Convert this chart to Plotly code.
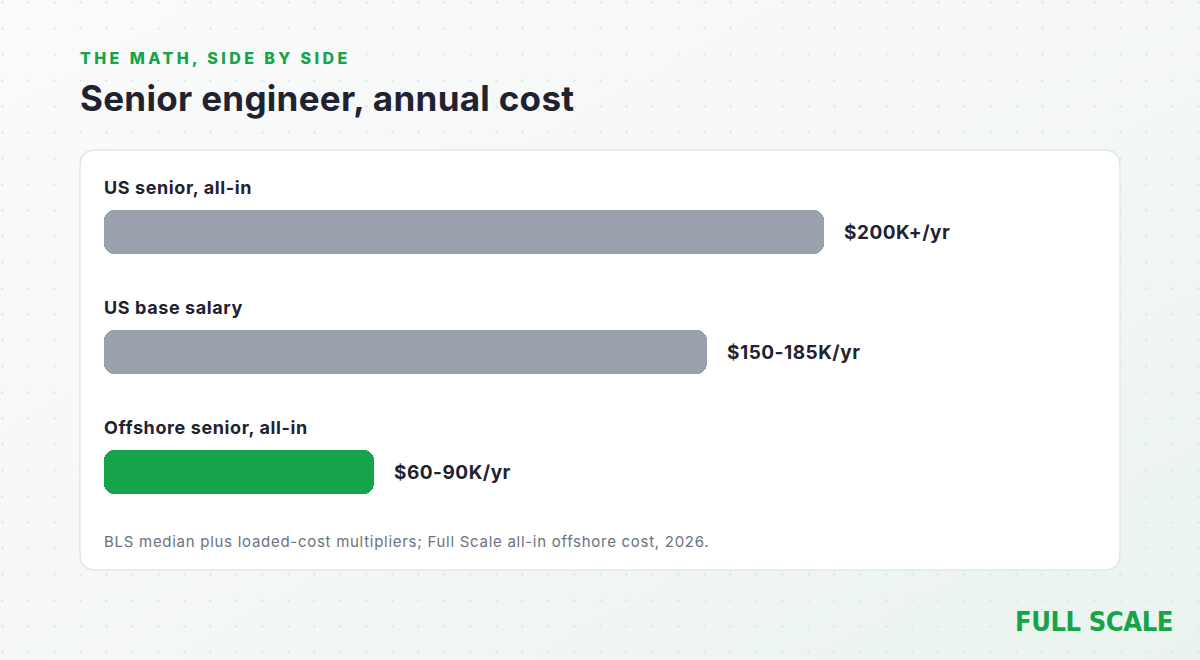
import plotly.graph_objects as go
import base64

# ---- data ----
categories = ["US senior, all-in", "US base salary", "Offshore senior, all-in"]
values_k = [200, 167.5, 75]          # bar length, $K/yr (range midpoint)
value_labels = ["$200K+/yr", "$150-185K/yr", "$60-90K/yr"]
bar_colors = ["#9AA1AC", "#9AA1AC", "#16A34A"]

eyebrow = "THE MATH, SIDE BY SIDE"
title = "Senior engineer, annual cost"
footnote = "BLS median plus loaded-cost multipliers; Full Scale all-in offshore cost, 2026."
logo = "FULL SCALE"

W, H = 1200, 660
FONT = "Inter"
DARK = "#1F2230"
GREEN = "#16A34A"
PX_PER_K = 3.6
R = 10                          # bar corner radius, px

# background gradient + dot grid (decorative) as an SVG image
svg = f'''<svg xmlns="http://www.w3.org/2000/svg" width="{W}" height="{H}">
<defs>
<linearGradient id="g" x1="0" y1="0" x2="1" y2="1">
<stop offset="0" stop-color="#FAFBFB"/>
<stop offset="0.5" stop-color="#F5F8F6"/>
<stop offset="1" stop-color="#E9F3EE"/>
</linearGradient>
<pattern id="p" x="1" y="1" width="26" height="26" patternUnits="userSpaceOnUse">
<circle cx="1.5" cy="1.5" r="1.3" fill="#DCE9E3"/>
</pattern>
</defs>
<rect width="{W}" height="{H}" fill="url(#g)"/>
<rect width="{W}" height="{H}" fill="url(#p)"/>
</svg>'''
bg_src = "data:image/svg+xml;base64," + base64.b64encode(svg.encode()).decode()

fig = go.Figure()
# explicit base -> plotly rounds both ends of each bar
fig.add_trace(go.Bar(
    x=values_k, base=[0] * len(values_k), y=categories, orientation="h",
    marker=dict(color=bar_colors, cornerradius=R, line=dict(width=0)),
    width=44 / 120, hoverinfo="skip",
))

def px_x(p):
    return p / W
def px_y(p):
    return 1 - p / H

# card (rounded rect) in paper coords
x0, x1, yt, yb, r = 80, 1120, 150, 570, 16
path = (f"M {px_x(x0 + r)},{px_y(yt)} L {px_x(x1 - r)},{px_y(yt)} "
        f"Q {px_x(x1)},{px_y(yt)} {px_x(x1)},{px_y(yt + r)} "
        f"L {px_x(x1)},{px_y(yb - r)} Q {px_x(x1)},{px_y(yb)} {px_x(x1 - r)},{px_y(yb)} "
        f"L {px_x(x0 + r)},{px_y(yb)} Q {px_x(x0)},{px_y(yb)} {px_x(x0)},{px_y(yb - r)} "
        f"L {px_x(x0)},{px_y(yt + r)} Q {px_x(x0)},{px_y(yt)} {px_x(x0 + r)},{px_y(yt)} Z")

shapes = [dict(type="path", path=path, xref="paper", yref="paper",
               fillcolor="white", line=dict(color="#E3E7E5", width=1.5), layer="below")]

def spaced(t, ls):
    return f'<span style="letter-spacing:{ls}px">{t}</span>'

annotations = []
for cat, v, lab in zip(categories, values_k, value_labels):
    annotations.append(dict(x=0, y=cat, xref="x", yref="y", text=spaced(cat, 0.6), showarrow=False,
                            xanchor="left", yanchor="middle", yshift=45, xshift=-2,
                            font=dict(family=FONT, size=18, color=DARK, weight="bold")))
    annotations.append(dict(x=v, y=cat, xref="x", yref="y", text=spaced(lab, 0.5), showarrow=False,
                            xanchor="left", yanchor="middle", xshift=18,
                            font=dict(family=FONT, size=19, color=DARK, weight="bold")))

annotations += [
    dict(x=px_x(78), y=px_y(58), xref="paper", yref="paper", text=spaced(eyebrow, 3.4),
         showarrow=False, xanchor="left", yanchor="middle",
         font=dict(family=FONT, size=16, color=GREEN, weight=800)),
    dict(x=px_x(78), y=px_y(98), xref="paper", yref="paper", text=spaced(title, 0.3),
         showarrow=False, xanchor="left", yanchor="middle",
         font=dict(family=FONT, size=35, color=DARK, weight="bold")),
    dict(x=px_x(102), y=px_y(541), xref="paper", yref="paper", text=spaced(footnote, 0.72),
         showarrow=False, xanchor="left", yanchor="middle",
         font=dict(family=FONT, size=15, color="#6B7280")),
    dict(x=px_x(1175), y=px_y(621), xref="paper", yref="paper", text=spaced(logo, -0.4),
         showarrow=False, xanchor="right", yanchor="middle",
         font=dict(family="DejaVu Sans Condensed, Liberation Sans Narrow, Roboto", size=27,
                   color=GREEN, weight="bold")),
]

fig.update_layout(
    width=W, height=H, margin=dict(l=0, r=0, t=0, b=0),
    paper_bgcolor="#F5F8F6", plot_bgcolor="rgba(0,0,0,0)",
    showlegend=False, bargap=0,
    xaxis=dict(domain=[px_x(104), 1], range=[0, (W - 104) / PX_PER_K], visible=False,
               fixedrange=True),
    yaxis=dict(domain=[px_y(532), px_y(172)], type="category", categoryarray=categories,
               range=[2.5, -0.5], visible=False, fixedrange=True),
    shapes=shapes, annotations=annotations,
    images=[dict(source=bg_src, xref="paper", yref="paper", x=0, y=1, sizex=1, sizey=1,
                 xanchor="left", yanchor="top", sizing="stretch", layer="below")],
)

fig.write_html("out.html", config={"displayModeBar": False},
               post_script="document.body.style.margin='0';document.body.style.overflow='hidden';")
